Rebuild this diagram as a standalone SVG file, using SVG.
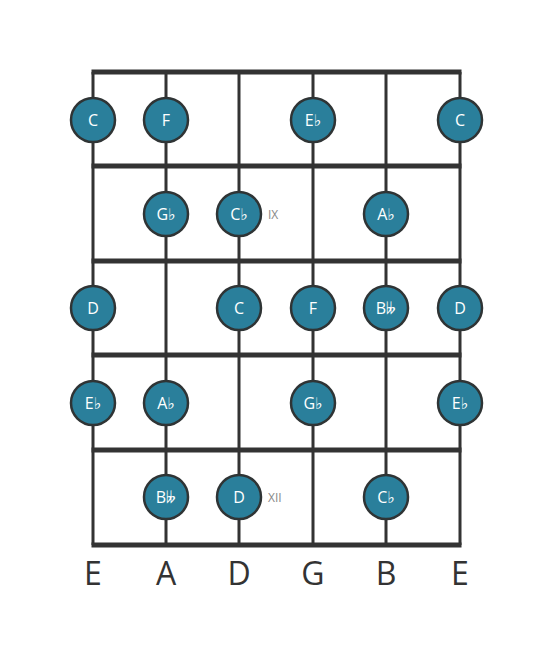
<svg xmlns="http://www.w3.org/2000/svg" width="553" height="656" viewBox="0 0 553 656">
<style>
.str{stroke:#333;stroke-width:3}
.fret{stroke:#333;stroke-width:5}
.n circle{fill:#2a7f9b;stroke:#2f3435;stroke-width:2.5}
.n text{fill:#fff;font-family:"Open Sans","DejaVu Sans",sans-serif;font-size:16px;text-anchor:middle;dominant-baseline:central}
.fn{fill:#888;font-family:"Open Sans","DejaVu Sans",sans-serif;font-size:12px;dominant-baseline:central}
.sl{fill:#333;font-family:"Open Sans","DejaVu Sans",sans-serif;font-size:32px;text-anchor:middle}
</style>
<rect width="553" height="656" fill="#fff"/>
<g id="board">
<line class="str" x1="93" y1="72" x2="93" y2="545"/>
<line class="str" x1="166" y1="72" x2="166" y2="545"/>
<line class="str" x1="239" y1="72" x2="239" y2="545"/>
<line class="str" x1="313" y1="72" x2="313" y2="545"/>
<line class="str" x1="386" y1="72" x2="386" y2="545"/>
<line class="str" x1="460" y1="72" x2="460" y2="545"/>
<line class="fret" x1="91.5" y1="72" x2="461.5" y2="72"/>
<line class="fret" x1="91.5" y1="166" x2="461.5" y2="166"/>
<line class="fret" x1="91.5" y1="261" x2="461.5" y2="261"/>
<line class="fret" x1="91.5" y1="355" x2="461.5" y2="355"/>
<line class="fret" x1="91.5" y1="450" x2="461.5" y2="450"/>
<line class="fret" x1="91.5" y1="545" x2="461.5" y2="545"/>
</g>
<g id="n1" class="n"><circle cx="93" cy="120" r="22"/><text x="93" y="120">C</text></g>
<g id="n2" class="n"><circle cx="166" cy="120" r="22"/><text x="166" y="120">F</text></g>
<g id="n3" class="n"><circle cx="313" cy="120" r="22"/><text x="313" y="120">E♭</text></g>
<g id="n4" class="n"><circle cx="460" cy="120" r="22"/><text x="460" y="120">C</text></g>
<g id="n5" class="n"><circle cx="166" cy="214" r="22"/><text x="166" y="214">G♭</text></g>
<g id="n6" class="n"><circle cx="239" cy="214" r="22"/><text x="239" y="214">C♭</text></g>
<g id="n7" class="n"><circle cx="386" cy="214" r="22"/><text x="386" y="214">A♭</text></g>
<g id="n8" class="n"><circle cx="93" cy="308" r="22"/><text x="93" y="308">D</text></g>
<g id="n9" class="n"><circle cx="239" cy="308" r="22"/><text x="239" y="308">C</text></g>
<g id="n10" class="n"><circle cx="313" cy="308" r="22"/><text x="313" y="308">F</text></g>
<g id="n11" class="n"><circle cx="386" cy="308" r="22"/><text x="386" y="308">B𝄫</text></g>
<g id="n12" class="n"><circle cx="460" cy="308" r="22"/><text x="460" y="308">D</text></g>
<g id="n13" class="n"><circle cx="93" cy="403" r="22"/><text x="93" y="403">E♭</text></g>
<g id="n14" class="n"><circle cx="166" cy="403" r="22"/><text x="166" y="403">A♭</text></g>
<g id="n15" class="n"><circle cx="313" cy="403" r="22"/><text x="313" y="403">G♭</text></g>
<g id="n16" class="n"><circle cx="460" cy="403" r="22"/><text x="460" y="403">E♭</text></g>
<g id="n17" class="n"><circle cx="166" cy="497" r="22"/><text x="166" y="497">B𝄫</text></g>
<g id="n18" class="n"><circle cx="239" cy="497" r="22"/><text x="239" y="497">D</text></g>
<g id="n19" class="n"><circle cx="386" cy="497" r="22"/><text x="386" y="497">C♭</text></g>
<g id="labels">
<text class="fn" x="268" y="214">IX</text>
<text class="fn" x="268" y="497">XII</text>
<text class="sl" x="93" y="585">E</text>
<text class="sl" x="166" y="585">A</text>
<text class="sl" x="239" y="585">D</text>
<text class="sl" x="313" y="585">G</text>
<text class="sl" x="386" y="585">B</text>
<text class="sl" x="460" y="585">E</text>
</g>
</svg>
